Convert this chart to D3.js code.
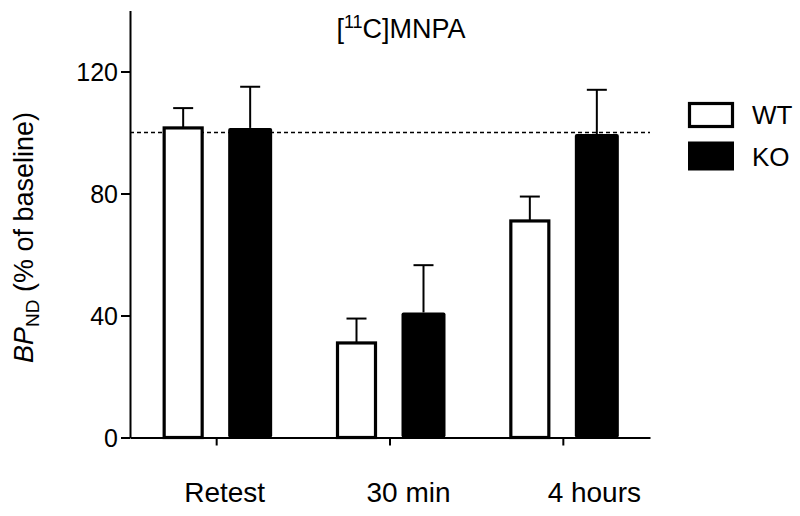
<!doctype html>
<html>
<head>
<style>
  body { margin: 0; background: #fff; }
  svg text { font-family: Arial, "Liberation Sans", sans-serif; fill: #000; }
</style>
<script src="https://d3js.org/d3.v7.min.js"></script>
</head>
<body>
<svg width="800" height="516"></svg>
<script>
// data
var categories = ["Retest", "30 min", "4 hours"];
var groups = ["WT", "KO"];
var wtValues = [101.5, 31, 71];
var wtErrors = [6.5, 8, 8];
var koValues = [101.5, 41, 99.5];
var koErrors = [13.5, 15.5, 14.5];
var yTicks = [0, 40, 80, 120];
var baseline = 100;

var svg = d3.select("svg");

var x0 = d3.scaleBand().domain(categories).range([130, 650]).padding(0);
var x1 = d3.scaleBand().domain(groups).range([0, x0.bandwidth()])
    .paddingInner(0.373).paddingOuter(0.48);
var y = d3.scaleLinear().domain([0, 140]).range([437.5, 10.5]);

var rows = [];
categories.forEach(function(c, i) {
    rows.push({cat: c, grp: "WT", v: wtValues[i], e: wtErrors[i]});
    rows.push({cat: c, grp: "KO", v: koValues[i], e: koErrors[i]});
});

// dashed 100% line
svg.append("line")
   .attr("x1", x0.range()[0]).attr("x2", x0.range()[1])
   .attr("y1", y(baseline)).attr("y2", y(baseline))
   .attr("stroke", "#000").attr("stroke-width", 1.6)
   .attr("stroke-dasharray", "4,3");

// error bars (upper only)
var err = svg.append("g").attr("stroke", "#000").attr("stroke-width", 2);
rows.forEach(function(d) {
    var cx = x0(d.cat) + x1(d.grp) + x1.bandwidth() / 2;
    err.append("line").attr("x1", cx).attr("x2", cx)
       .attr("y1", y(d.v)).attr("y2", y(d.v + d.e));
    err.append("line").attr("x1", cx - 10).attr("x2", cx + 10)
       .attr("y1", y(d.v + d.e)).attr("y2", y(d.v + d.e));
});

// bars
svg.selectAll(".bar")
   .data(rows)
   .enter().append("rect")
   .attr("class", "bar")
   .attr("x", function(d) {
       var cx = x0(d.cat) + x1(d.grp) + x1.bandwidth() / 2;
       return d.grp == "WT" ? cx - 19 : cx - 22;
   })
   .attr("width", function(d) { return d.grp == "WT" ? 38 : 44; })
   .attr("y", function(d) { return y(d.v); })
   .attr("height", function(d) { return y(0) - y(d.v); })
   .attr("rx", function(d) { return d.grp == "KO" ? 2 : 0; })
   .attr("fill", function(d) { return d.grp == "WT" ? "#fff" : "#000"; })
   .attr("stroke", function(d) { return d.grp == "WT" ? "#000" : "none"; })
   .attr("stroke-width", 3.2);

// y axis
var yAxis = svg.append("g")
   .attr("transform", "translate(130,0)")
   .call(d3.axisLeft(y).tickValues(yTicks).tickSize(9).tickPadding(3).tickSizeOuter(0));
yAxis.select(".domain").attr("stroke-width", 2);
yAxis.selectAll(".tick line").attr("stroke-width", 2);
yAxis.selectAll("text").attr("font-size", "25px").attr("font-family", null).attr("dy", "0.35em");

// x axis
var xAxis = svg.append("g")
   .attr("transform", "translate(0,437.5)")
   .call(d3.axisBottom(x0).tickSize(8).tickSizeOuter(0).tickFormat(""));
xAxis.select(".domain").attr("stroke-width", 2);
xAxis.selectAll(".tick line").attr("stroke-width", 2);

var labelShift = [8, 18.5, 31];
svg.selectAll(".xlab")
   .data(categories)
   .enter().append("text")
   .attr("class", "xlab")
   .attr("x", function(d, i) { return x0(d) + x0.bandwidth() / 2 + labelShift[i]; })
   .attr("y", 502)
   .attr("text-anchor", "middle")
   .attr("font-size", "28px")
   .text(function(d) { return d; });

// y label
var yl = svg.append("text")
   .attr("transform", "translate(33,237.5) rotate(-90)")
   .attr("text-anchor", "middle")
   .attr("font-size", "27px");
yl.append("tspan").attr("font-style", "italic").text("BP");
yl.append("tspan").attr("font-size", "19px").attr("dy", 6).text("ND");
yl.append("tspan").attr("dy", -6).text(" (% of baseline)");

// title
var t = svg.append("text")
   .attr("x", 401).attr("y", 38)
   .attr("text-anchor", "middle")
   .attr("font-size", "27px");
t.append("tspan").text("[");
t.append("tspan").attr("font-size", "18px").attr("dy", -10).text("11");
t.append("tspan").attr("dy", 10).text("C]MNPA");

// legend
var leg = svg.append("g");
groups.forEach(function(g, i) {
    var yy = 103.5 + i * 40;
    leg.append("rect")
       .attr("x", 689.5).attr("y", yy)
       .attr("width", g == "WT" ? 43 : 46).attr("height", g == "WT" ? 23 : 29)
       .attr("transform", g == "WT" ? null : "translate(-1.5,-2)")
       .attr("fill", g == "WT" ? "#fff" : "#000")
       .attr("stroke", g == "WT" ? "#000" : "none")
       .attr("stroke-width", 3.2);
    leg.append("text")
       .attr("x", 752).attr("y", 124 + i * 42)
       .attr("font-size", "26px")
       .text(g);
});
</script>
</body>
</html>
